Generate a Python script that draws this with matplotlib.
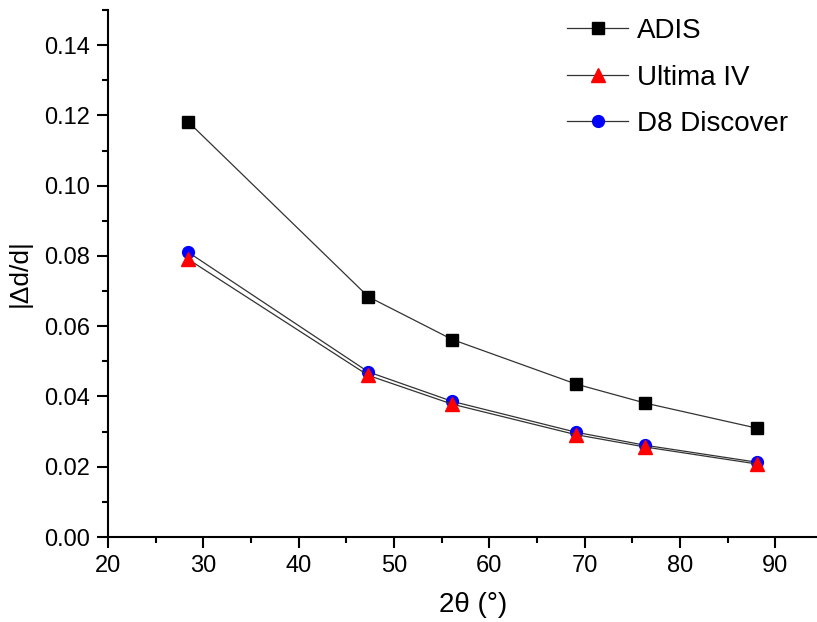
import matplotlib.pyplot as plt
from matplotlib.ticker import MultipleLocator

# 2theta positions (deg)
two_theta = [28.44, 47.30, 56.12, 69.13, 76.38, 88.03]
# relative d-spacing error
adis = [0.1181, 0.0684, 0.0562, 0.0435, 0.0381, 0.0310]
ultima = [0.0790, 0.0460, 0.0378, 0.0291, 0.0256, 0.0208]
d8 = [0.0810, 0.0470, 0.0386, 0.0298, 0.0261, 0.0213]

plt.rcParams['font.family'] = ['Liberation Sans', 'DejaVu Sans']

fig = plt.figure(figsize=(8.17, 6.22), dpi=100)
ax = fig.add_axes([108 / 817, 85 / 622, (823 - 108) / 817, (537 - 10) / 622])

ax.plot(two_theta, adis, color='#333333', lw=0.9, marker='s', ms=8,
        mfc='black', mec='black', label='ADIS')
ax.plot(two_theta, ultima, color='#333333', lw=0.9, marker='^', ms=10,
        mfc='red', mec='red', label='Ultima IV')
ax.plot(two_theta, d8, color='#333333', lw=0.9, marker='o', ms=8.5,
        mfc='blue', mec='blue', label='D8 Discover', zorder=1)

ax.set_xlim(20, 95)
ax.set_ylim(0, 0.15)
ax.xaxis.set_major_locator(MultipleLocator(10))
ax.xaxis.set_minor_locator(MultipleLocator(5))
ax.yaxis.set_major_locator(MultipleLocator(0.02))
ax.yaxis.set_minor_locator(MultipleLocator(0.01))
ax.yaxis.set_major_formatter(plt.FormatStrFormatter('%.2f'))

for s in ['top', 'right']:
    ax.spines[s].set_visible(False)
for s in ['left', 'bottom']:
    ax.spines[s].set_linewidth(1.5)

ax.tick_params(which='major', length=8, width=1.5, labelsize=17, pad=5)
ax.tick_params(which='minor', length=4.5, width=1.5)

fig.text(20 / 817, 1 - 273 / 622, '|\u0394d/d|', fontsize=19, rotation=90,
         ha='center', va='center')
fig.text(473 / 817, 1 - 605 / 622, '2\u03b8 (\u00b0)', fontsize=20,
         ha='center', va='center')

ax.legend(loc='upper left', bbox_to_anchor=(567 / 817, 1 - 18 / 622),
          bbox_transform=fig.transFigure, frameon=False,
          fontsize=20, handlelength=2.2, handletextpad=0.32, labelspacing=0.74,
          borderaxespad=0, borderpad=0)

fig.savefig('out.png', dpi=100)
